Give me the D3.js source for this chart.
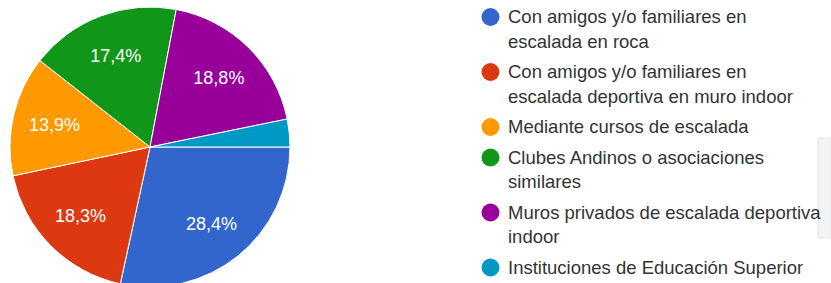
<!DOCTYPE html>
<html>
<head>
<meta charset="utf-8">
<script src="https://cdn.jsdelivr.net/npm/d3@7"></script>
<style>
  body { margin: 0; background: #fff; }
  svg { display: block; font-family: "Liberation Sans", Arial, sans-serif; }
</style>
</head>
<body>
<div id="chart"></div>
<script>
const categories = [
  "Con amigos y/o familiares en escalada en roca",
  "Con amigos y/o familiares en escalada deportiva en muro indoor",
  "Mediante cursos de escalada",
  "Clubes Andinos o asociaciones similares",
  "Muros privados de escalada deportiva indoor",
  "Instituciones de Educación Superior"
];
const legendLines = [
  ["Con amigos y/o familiares en", "escalada en roca"],
  ["Con amigos y/o familiares en", "escalada deportiva en muro indoor"],
  ["Mediante cursos de escalada"],
  ["Clubes Andinos o asociaciones", "similares"],
  ["Muros privados de escalada deportiva", "indoor"],
  ["Instituciones de Educación Superior"]
];
const values = [28.4, 18.3, 13.9, 17.4, 18.8, 3.2];
const colors = ["#3366cc", "#dc3912", "#ff9900", "#109618", "#990099", "#0099c6"];

const width = 831, height = 283;
const cx = 150, cy = 147, radius = 140;

const svg = d3.select("#chart")
  .append("svg")
  .attr("width", width)
  .attr("height", height)
  .attr("viewBox", [0, 0, width, height]);

// faint panel at the right edge
svg.append("rect")
  .attr("x", 818).attr("y", 138)
  .attr("width", 13).attr("height", 100)
  .attr("fill", "#f1f3f4")
  .attr("stroke", "#e3e5e8");

const color = d3.scaleOrdinal().domain(categories).range(colors);

const pie = d3.pie()
  .sort(null)
  .value(d => d.value)
  .startAngle(Math.PI / 2)
  .endAngle(Math.PI / 2 + 2 * Math.PI);

const data = categories.map((c, i) => ({ name: c, value: values[i] }));
const arcs = pie(data);

const arc = d3.arc().innerRadius(0).outerRadius(radius);
const labelArc = d3.arc().innerRadius(radius * 0.7).outerRadius(radius * 0.7);

const g = svg.append("g").attr("transform", `translate(${cx},${cy})`);

g.selectAll("path")
  .data(arcs)
  .enter()
  .append("path")
  .attr("d", arc)
  .attr("fill", d => color(d.data.name))
  .attr("stroke", "#fff")
  .attr("stroke-width", 1);

g.selectAll("text")
  .data(arcs.filter(d => d.data.value >= 5))
  .enter()
  .append("text")
  .attr("transform", d => `translate(${labelArc.centroid(d)})`)
  .attr("text-anchor", "middle")
  .attr("dy", "0.35em")
  .attr("fill", "#fff")
  .style("font-size", "18px")
  .text(d => d.data.value.toFixed(1).replace(".", ",") + "%");

// legend
const lineH = 24.5, gap = 30.5;
let y = 17;
const legend = svg.append("g");
legendLines.forEach((lines, i) => {
  const item = legend.append("g").attr("transform", `translate(0,${y})`);
  item.append("circle")
    .attr("cx", 490.5).attr("cy", 0).attr("r", 9)
    .attr("fill", color(categories[i]));
  lines.forEach((t, j) => {
    item.append("text")
      .attr("x", 508)
      .attr("y", j * lineH)
      .attr("dy", "0.35em")
      .attr("fill", "#333")
      .style("font-size", "18.5px")
      .text(t);
  });
  y += (lines.length - 1) * lineH + gap;
});
</script>
</body>
</html>
